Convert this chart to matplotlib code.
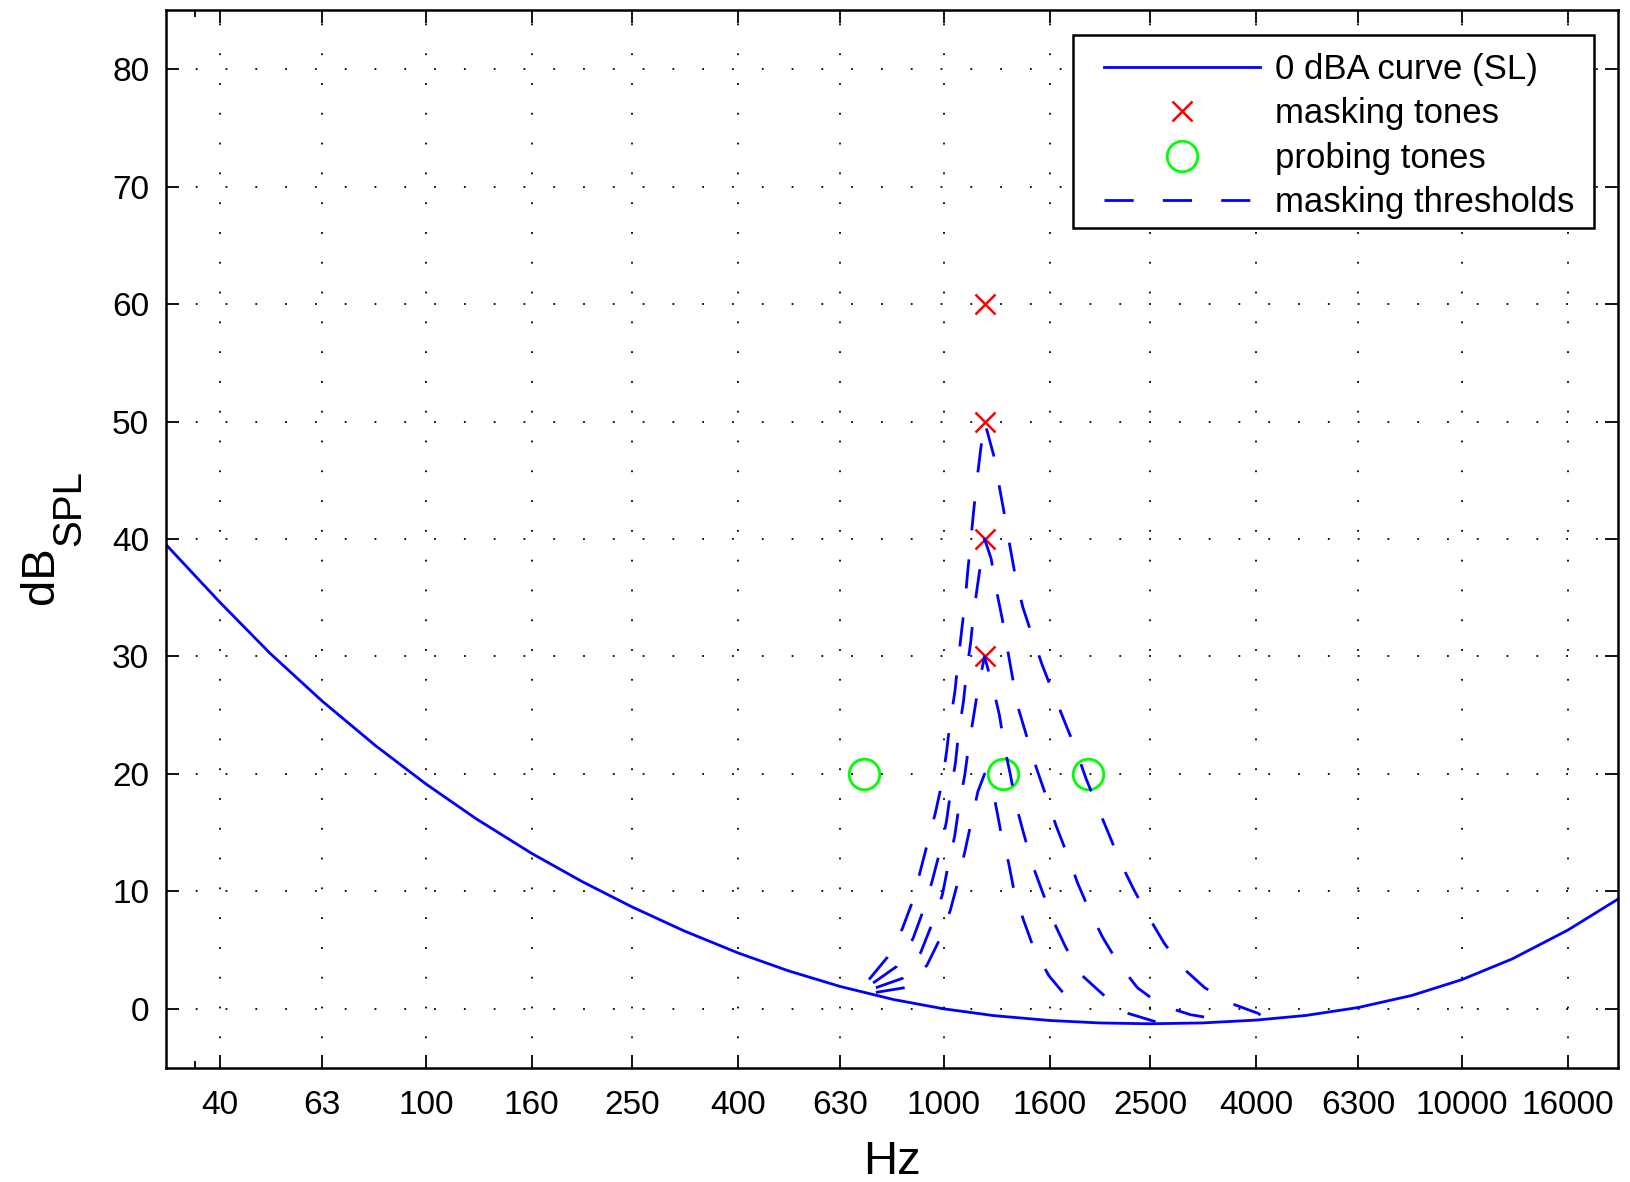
import numpy as np
import matplotlib
matplotlib.use("Agg")
import matplotlib.pyplot as plt
from matplotlib.patches import Rectangle
from matplotlib.ticker import FixedLocator, NullFormatter

plt.rcParams['font.family'] = ['Liberation Sans', 'DejaVu Sans']

# 0 dBA curve (threshold, SL) read at third-octave bands
sl_freq = [31.5, 40, 50, 63, 80, 100, 125, 160, 200, 250, 315, 400, 500, 630, 800,
           1000, 1250, 1600, 2000, 2500, 3150, 4000, 5000, 6300, 8000, 10000,
           12500, 16000, 20000]
sl_db = [39.53, 34.63, 30.28, 26.22, 22.40, 19.15, 16.19, 13.24, 10.85, 8.68, 6.64,
         4.77, 3.25, 1.91, 0.79, 0.0, -0.58, -0.99, -1.20, -1.27, -1.20, -0.96,
         -0.56, 0.11, 1.14, 2.49, 4.25, 6.70, 9.34]

# masking tones
mask_freq = [1200, 1200, 1200, 1200]
mask_db = [30, 40, 50, 60]

# probing tones
probe_freq = [700, 1300, 1900]
probe_db = [20, 20, 20]

# masking thresholds (one per masker)
thr50_freq = [717, 778, 831, 869, 900, 931, 963, 991, 1012, 1027, 1050, 1064, 1082,
              1098, 1112, 1126, 1142, 1158, 1178, 1198, 1248, 1280, 1311, 1342,
              1374, 1420, 1477, 1547, 1621, 1708, 1793, 1881, 1974, 2085, 2189,
              2329, 2478, 2661, 2873, 3187, 3565, 4050, 4140]
thr50_db = [2.5, 4.4, 6.8, 9.1, 11.7, 14.2, 16.7, 19.2, 21.9, 24.3, 27.0, 29.4, 32.2,
            34.6, 37.3, 39.7, 42.5, 45.0, 47.7, 50.0, 47.1, 44.4, 41.9, 39.3,
            36.8, 34.2, 31.9, 29.3, 27.0, 24.5, 22.2, 19.6, 17.3, 14.8, 12.5,
            10.1, 7.9, 5.6, 3.6, 1.8, 0.5, -0.4, -0.8]

thr40_freq = [730, 810, 872, 911, 948, 981, 1011, 1029, 1053, 1067, 1091, 1106, 1127,
              1142, 1165, 1186, 1198, 1234, 1262, 1296, 1328, 1358, 1394, 1447,
              1506, 1575, 1646, 1728, 1812, 1908, 2024, 2169, 2363, 2627, 2993, 3392]
thr40_db = [2.2, 3.6, 6.0, 8.3, 10.8, 13.3, 15.9, 18.3, 21.0, 23.4, 26.2, 28.7, 31.3,
            33.8, 36.5, 38.9, 40.0, 38.3, 35.7, 33.2, 30.5, 28.1, 25.5, 23.1,
            20.6, 18.1, 15.6, 13.2, 10.7, 8.4, 6.1, 3.9, 1.8, 0.3, -0.5, -0.9]

thr30_freq = [739, 832, 902, 946, 993, 1018, 1049, 1069, 1097, 1116, 1142, 1165, 1198,
              1243, 1280, 1309, 1344, 1379, 1426, 1484, 1551, 1633, 1720, 1852,
              2054, 2273, 2564]
thr30_db = [1.8, 2.6, 4.8, 7.1, 9.7, 12.1, 14.7, 17.2, 19.9, 22.3, 25.0, 27.4, 30.0,
            27.4, 25.0, 22.3, 19.9, 17.3, 14.9, 12.2, 9.9, 7.3, 5.2, 2.8,
            1.0, -0.4, -1.1]

thr20_freq = [739, 840, 927, 981, 1029, 1064, 1099, 1129, 1163, 1198, 1256, 1290,
              1332, 1368, 1426, 1495, 1596, 1741, 1826]
thr20_db = [1.4, 1.8, 3.7, 5.9, 8.4, 10.8, 13.5, 15.9, 18.5, 20.0, 17.6, 14.9,
            12.5, 9.9, 7.5, 5.0, 2.8, 0.8, 0.2]

xtick_vals = [40, 63, 100, 160, 250, 400, 630, 1000, 1600, 2500, 4000, 6300, 10000, 16000]
ytick_vals = [0, 10, 20, 30, 40, 50, 60, 70, 80]

W, H = 1630, 1182
fig = plt.figure(figsize=(W / 100, H / 100), dpi=100)
ax = fig.add_axes([0.1018, 0.0968, 0.8908, 0.8944])

blue = '#0000ff'
ax.plot(sl_freq, sl_db, color=blue, lw=2.0, label='0 dBA curve (SL)')
ax.plot(mask_freq, mask_db, ls='none', marker='x', color='#ff0000', ms=15, mew=1.8,
        label='masking tones')
ax.plot(probe_freq, probe_db, ls='none', marker='o', mfc='none', mec='#00ff00',
        ms=22, mew=2.0, label='probing tones')

thresholds = [(thr50_freq, thr50_db), (thr40_freq, thr40_db),
              (thr30_freq, thr30_db), (thr20_freq, thr20_db)]
for i, (fq, db) in enumerate(thresholds):
    ax.plot(fq, db, color=blue, lw=2.0, ls=(0, (10.5, 10.5)),
            label='masking thresholds' if i == 0 else None)

ax.set_xscale('log')
ax.set_xlim(31.5, 20000)
ax.set_ylim(-5, 85)
ax.xaxis.set_major_locator(FixedLocator(xtick_vals))
ax.set_xticklabels([str(v) for v in xtick_vals])
ax.xaxis.set_minor_locator(FixedLocator([35.9]))
ax.xaxis.set_minor_formatter(NullFormatter())
ax.set_yticks(ytick_vals)

ax.tick_params(which='both', direction='in', top=True, right=True,
               labelsize=24, width=1.3)
ax.tick_params(which='major', length=9.5)
ax.tick_params(which='minor', length=5)
ax.tick_params(axis='x', pad=16)
ax.tick_params(axis='y', pad=12)

for s in ax.spines.values():
    s.set_linewidth(1.8)

ax.grid(True, which='major', color='black', ls=(0, (1, 15.5)), lw=1.3)

ax.set_xlabel('Hz', fontsize=34, labelpad=14)

# y label: dB with a large SPL subscript
fig.text(53 / W, 1 - 604 / H, 'dB', fontsize=34, rotation=90,
         rotation_mode='anchor', ha='left', va='baseline')
fig.text(80 / W, 1 - 546 / H, 'SPL', fontsize=29, rotation=90,
         rotation_mode='anchor', ha='left', va='baseline')

# legend with MATLAB-like frame
box = Rectangle((1073 / W, 1 - 228 / H), (1594 - 1073) / W, (228 - 34.5) / H,
                transform=fig.transFigure, facecolor='white', edgecolor='black',
                lw=1.8, zorder=2)
fig.add_artist(box)
handles, labels = ax.get_legend_handles_labels()
leg = fig.legend(handles, labels, loc='upper left',
                 bbox_to_anchor=(1104 / W, 1 - 53 / H), borderaxespad=0,
                 borderpad=0, fontsize=25, numpoints=1, handlelength=4.5,
                 handletextpad=0.43, labelspacing=0.33, frameon=False)
leg.set_zorder(5)

fig.savefig('out.png', dpi=100)
